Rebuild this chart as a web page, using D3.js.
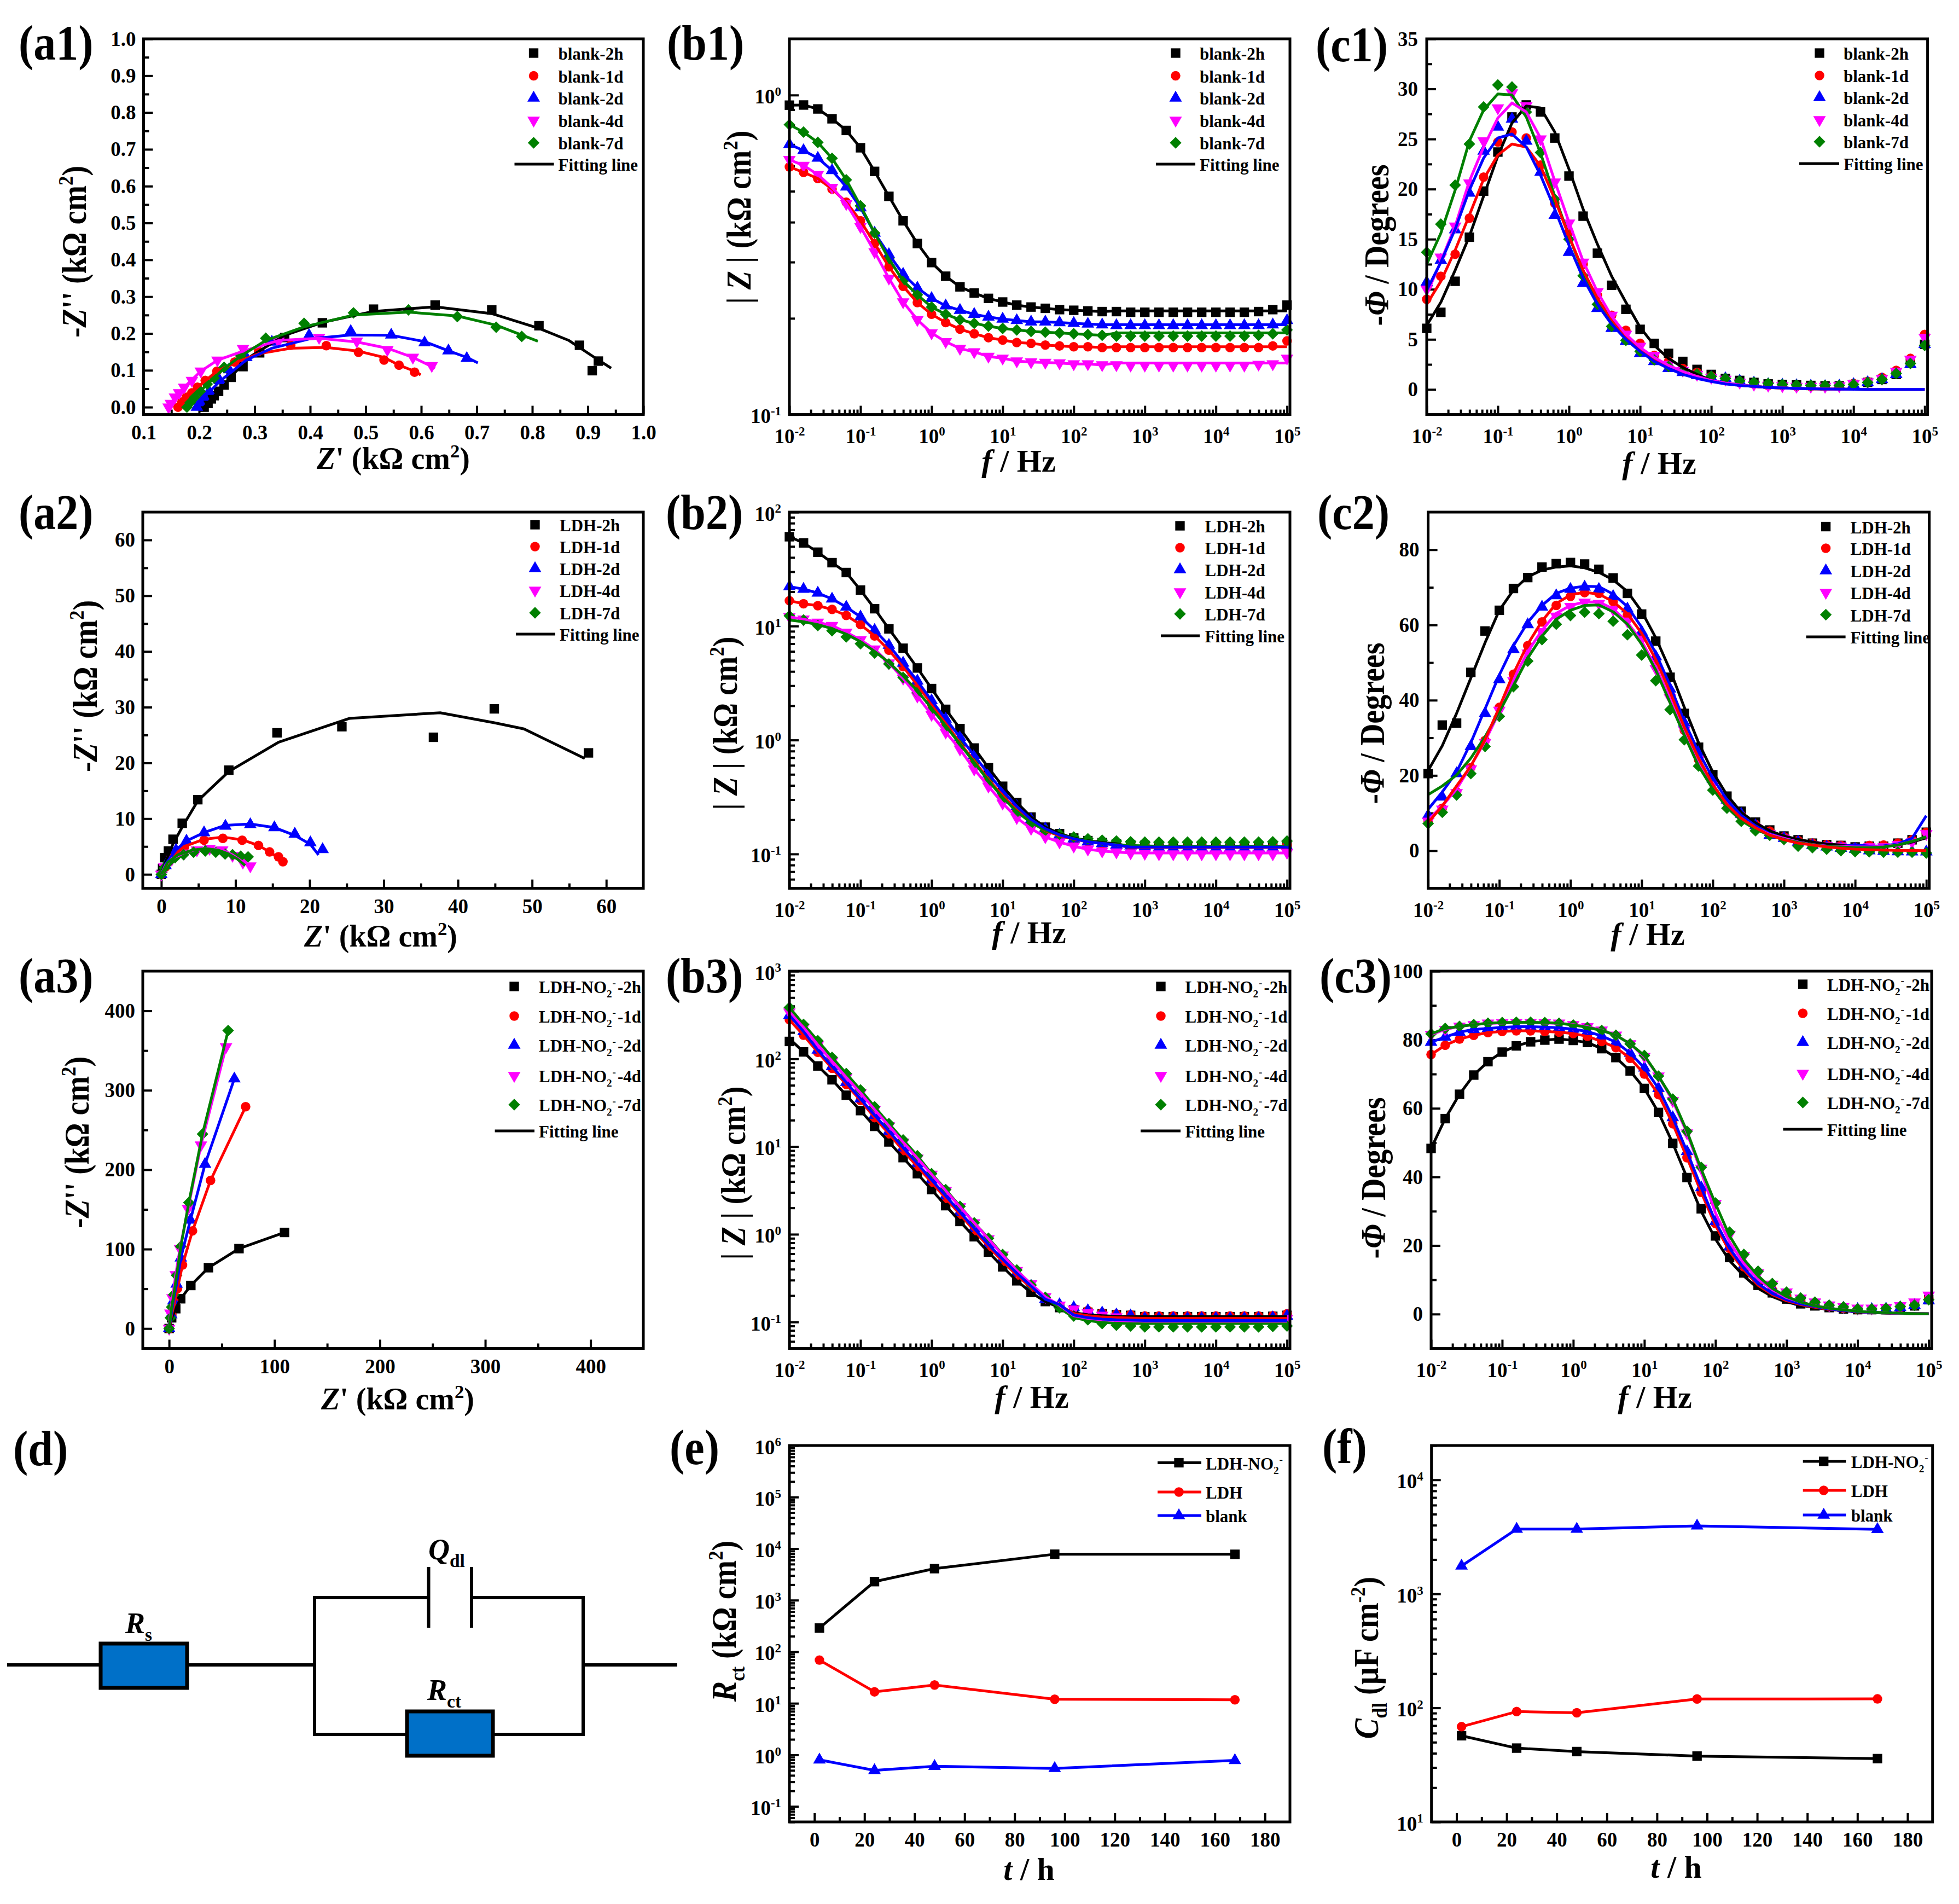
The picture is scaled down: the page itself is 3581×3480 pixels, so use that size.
<!DOCTYPE html>
<html>
<head>
<meta charset="utf-8">
<script src="https://cdn.jsdelivr.net/npm/d3@7"></script>
<style>
  body { margin: 0; background: #fff; }
  text { font-family: "Liberation Serif", serif; font-weight: bold; fill: #000; }
  .axis text { font-size: 37px; }
  .legend text { font-size: 31px; }
  .title { font-size: 56px; }
  .tag { font-size: 82px; }
</style>
</head>
<body>
<svg id="chart" width="3581" height="3480"></svg>
<script>
// frequency sweep shared by the Bode plots (Hz)
const freq = [0.01,0.0158,0.0251,0.0398,0.0631,0.1,0.158,0.251,0.398,0.631,1,1.58,2.51,3.98,6.31,10,15.8,25.1,39.8,63.1,100,158,251,398,631,1000,1580,2510,3980,6310,10000,15800,25100,39800,63100,100000];
const hours = [2,24,48,96,168];

// Nyquist, blank: [Z', -Z'']
const a1Pts2h = [[.209,0],[.216,.01],[.222,.0225],[.227,.031],[.235,.043],[.245,.06],[.2575,.081],[.279,.11],[.309,.1475],[.354,.189],[.422,.229],[.514,.266],[.625,.277],[.727,.264],[.812,.221],[.885,.168],[.919,.125],[.908,.099]];
const a1Pts1d = [[.162,0],[.169,.014],[.177,.027],[.187,.039],[.197,.054],[.211,.0725],[.232,.0975],[.264,.1225],[.307,.152],[.365,.168],[.429,.167],[.487,.149],[.533,.128],[.56,.114],[.588,.095]];
const a1Pts2d = [[.196,0],[.202,.0125],[.209,.027],[.218,.043],[.237,.0725],[.254,.102],[.285,.135],[.331,.177],[.398,.195],[.473,.206],[.546,.196],[.606,.175],[.649,.153],[.682,.1325]];
const a1Pts4d = [[.145,0],[.149,.01],[.1565,.027],[.164,.039],[.173,.054],[.187,.0725],[.203,.0975],[.233,.1275],[.279,.159],[.343,.179],[.416,.189],[.484,.179],[.539,.156],[.585,.135],[.619,.1125]];
const a1Pts7d = [[.178,0],[.184,.0125],[.192,.027],[.202,.043],[.2145,.0625],[.227,.079],[.245,.108],[.275,.139],[.32,.187],[.389,.2275],[.478,.256],[.577,.264],[.665,.246],[.735,.217],[.781,.192]];
const a1Fit2h = [[.209,0],[.227,.03],[.245,.058],[.256,.081],[.294,.139],[.354,.195],[.422,.23],[.514,.26],[.625,.2725],[.727,.254],[.812,.214],[.866,.181],[.912,.135],[.942,.106]];
const a1Fit1d = [[.162,0],[.177,.027],[.197,.054],[.232,.0975],[.264,.12],[.307,.145],[.365,.16],[.429,.162],[.487,.152],[.533,.135],[.56,.114],[.588,.0975],[.599,.0875]];
const a1Fit2d = [[.196,0],[.209,.027],[.237,.07],[.285,.128],[.331,.16],[.398,.185],[.473,.196],[.546,.195],[.606,.178],[.649,.153],[.682,.135],[.702,.12]];
const a1Fit4d = [[.145,0],[.1565,.027],[.173,.054],[.203,.0975],[.233,.1275],[.279,.152],[.343,.181],[.416,.187],[.484,.177],[.539,.16],[.585,.135],[.625,.106]];
const a1Fit7d = [[.178,0],[.192,.027],[.2145,.0625],[.245,.105],[.275,.139],[.32,.181],[.389,.218],[.478,.25],[.577,.258],[.665,.2475],[.735,.2225],[.81,.179]];

// Nyquist, LDH
const a2Pts2h = [[0,0],[.17,1.05],[.45,3],[.96,4.2],[1.58,6.3],[2.82,9.17],[4.92,13.4],[9.1,18.7],[15.6,25.4],[24.35,26.5],[36.7,24.6],[44.9,29.7],[57.6,21.8]];
const a2Pts1d = [[0,0],[.56,1.33],[1.53,3.26],[3.1,4.9],[5.76,6.13],[8.3,6.46],[10.9,6.13],[13.1,5.2],[14.6,4.03],[15.8,3.15],[16.4,2.27]];
const a2Pts2d = [[0,0],[.56,1.6],[1.98,4.36],[3.39,6],[5.76,7.5],[8.64,8.67],[12,8.95],[15.25,8.4],[18,7.24],[20.1,5.7],[21.75,4.48]];
const a2Pts4d = [[0,0],[.4,1.33],[1.41,2.7],[3.1,3.8],[4.8,4.36],[6.5,4.64],[8.2,4.36],[9.6,3.37],[11,2.15],[12,1.5]];
const a2Pts7d = [[0,0],[.4,1.16],[.96,2.15],[1.86,3],[3,3.54],[4.35,3.98],[5.93,4.2],[7.34,3.98],[8.6,3.65],[9.6,3.54],[10.7,3.26],[11.7,3.15]];
const a2Fit2h = [[0,0],[.56,2.15],[1.58,5.47],[2.82,8.5],[4.92,13.2],[9.1,18.45],[15.8,23.7],[25.4,28],[37.6,29],[44.9,27.2],[48.9,26.1],[57.1,20.8]];
const a2Fit1d = [[0,0],[.56,1.4],[1.53,3.3],[3.1,5],[5.76,6.3],[8.3,6.7],[10.9,6.2],[13.1,5.2],[14.6,4.03],[15.8,3],[16.4,2.1]];
const a2Fit2d = [[0,0],[.56,1.8],[1.98,4.4],[3.39,6],[5.76,7.5],[8.64,8.8],[12,9.05],[15.25,8.4],[18,7],[20.1,5.4],[21.2,3.5]];
const a2Fit4d = [[0,0],[.56,1.6],[1.41,2.8],[3.1,3.9],[4.8,4.5],[6.5,4.7],[8.2,4.4],[9.6,3.5],[11,2.2],[11.3,1.9]];
const a2Fit7d = [[0,0],[.85,2.15],[2.26,3.54],[4.24,4.36],[5.93,4.64],[7.63,4.36],[9,3.7],[10.2,2.8],[11.3,1.6]];

// Nyquist, LDH-NO2-
const a3Pts2h = [[0,0],[2.4,13.5],[6.3,25],[11,37.5],[20.6,54.2],[37.3,76.6],[66.3,100.6],[109.5,121]];
const a3Pts1d = [[0,0],[2.4,17.4],[5.2,32.9],[7.9,50.3],[12.7,80],[22.2,123],[39.3,186.5],[72.6,279.3]];
const a3Pts2d = [[0,0],[2,17.4],[4,34.8],[7.1,56],[11.1,89],[20.2,136.6],[34.1,207],[61.9,314.5]];
const a3Pts4d = [[0,0],[1.2,19.3],[3.2,38.7],[6.3,67.7],[10.3,100.6],[17.9,150.9],[30.2,231],[54,354.7]];
const a3Pts7d = [[0,0],[1.2,13.5],[2.4,27],[4.4,42.6],[7.1,67],[11.1,103.3],[18.7,158.6],[31.7,244.9],[56,375.2]];

// |Z|, blank
const b1Z2h = [.93,.931,.905,.843,.775,.684,.577,.482,.404,.343,.299,.271,.251,.24,.231,.225,.22,.217,.215,.213,.212,.211,.21,.21,.209,.209,.209,.209,.209,.209,.209,.209,.209,.21,.213,.22];
const b1Z1d = [.596,.573,.548,.508,.462,.404,.343,.29,.252,.224,.206,.194,.185,.179,.174,.171,.168,.167,.165,.164,.163,.163,.162,.162,.162,.162,.162,.162,.162,.162,.162,.162,.162,.162,.164,.17];
const b1Z2d = [.701,.671,.635,.581,.516,.444,.37,.317,.275,.249,.231,.219,.212,.206,.202,.199,.197,.195,.195,.194,.193,.192,.191,.19,.19,.19,.19,.19,.19,.19,.19,.19,.19,.19,.191,.197];
const b1Z4d = [.628,.602,.564,.514,.457,.387,.323,.267,.225,.198,.18,.169,.161,.157,.152,.15,.147,.146,.1455,.145,.144,.144,.143,.143,.1426,.1426,.1426,.1426,.1426,.1426,.1426,.1426,.1426,.1435,.144,.15];
const b1Z7d = [.808,.766,.711,.634,.543,.45,.37,.307,.262,.237,.217,.206,.198,.193,.189,.186,.184,.182,.181,.18,.179,.178,.177,.176,.176,.176,.176,.176,.176,.176,.176,.176,.176,.177,.179,.184];
const b1Fit2h = [...b1Z2h.slice(0,23),.211,.211,.211,.211,.211,.211,.211,.211,.211,.211,.211,.211,.211];
const b1Fit1d = [...b1Z1d.slice(0,23),.163,.163,.163,.163,.163,.163,.163,.163,.163,.163,.163,.163,.163];
const b1Fit2d = [...b1Z2d.slice(0,23),.191,.191,.191,.191,.191,.191,.191,.191,.191,.191,.191,.191,.191];
const b1Fit4d = [...b1Z4d.slice(0,23),.145,.145,.145,.145,.145,.145,.145,.145,.145,.145,.145,.145,.145];
const b1Fit7d = [...b1Z7d.slice(0,23),.18,.18,.18,.18,.18,.18,.18,.18,.18,.18,.18,.18,.18];

// |Z|, LDH
const b2Z2h = [60.8,53.7,44.5,36,29.5,20.7,14.2,9.45,6.39,4.29,2.83,1.86,1.26,.851,.571,.393,.283,.211,.172,.151,.138,.131,.126,.123,.1205,.119,.117,.116,.116,.116,.116,.116,.116,.116,.116,.119];
const b2Z1d = [16.7,15.7,15.1,14,12.4,10.3,8.2,6.15,4.4,3.03,2.07,1.41,.94,.655,.451,.326,.242,.192,.16,.145,.135,.128,.124,.12,.118,.116,.115,.115,.115,.115,.115,.115,.115,.115,.116,.12];
const b2Z2d = [22.2,21.1,19.5,17.3,14.7,12.05,9.2,6.8,4.74,3.3,2.22,1.53,1.06,.733,.504,.358,.262,.201,.167,.147,.136,.128,.124,.12,.118,.116,.114,.113,.112,.112,.112,.112,.112,.112,.113,.116];
const b2Z4d = [12.05,11.5,10.8,10.1,8.83,7.56,6.27,4.74,3.47,2.42,1.67,1.17,.83,.554,.393,.279,.208,.167,.141,.127,.117,.11,.106,.104,.102,.101,.1,.1,.1,.1,.1,.1,.1,.1,.1,.103];
const b2Z7d = [12.3,11.3,10.1,9.1,8.04,7,5.8,4.65,3.54,2.62,1.86,1.31,.91,.627,.432,.306,.232,.186,.161,.149,.141,.136,.132,.13,.128,.127,.127,.127,.127,.127,.127,.127,.127,.127,.128,.13];
const b2Fit2h = [...b2Z2h.slice(0,24),.116,.116,.116,.116,.116,.116,.116,.116,.116,.116,.116,.116];
const b2Fit1d = [...b2Z1d.slice(0,24),.114,.114,.114,.114,.114,.114,.114,.114,.114,.114,.114,.114];
const b2Fit2d = [...b2Z2d.slice(0,24),.115,.115,.115,.115,.115,.115,.115,.115,.115,.115,.115,.115];
const b2Fit4d = [...b2Z4d.slice(0,24),.102,.102,.102,.102,.102,.102,.102,.102,.102,.102,.102,.102];
const b2Fit7d = [11.3,10.9,10.3,9.5,8.5,7.3,6,4.8,3.65,2.7,1.9,1.33,.92,.635,.44,.312,.236,.188,.162,.148,.137,.13,.124,.121,.119,.118,.117,.117,.117,.117,.117,.117,.117,.117,.117,.117];

// |Z|, LDH-NO2-
const b3Z2h = [158,120,83,57.7,38.5,25.7,17,11.3,7.48,4.91,3.23,2.12,1.4,.937,.626,.425,.295,.217,.171,.146,.138,.129,.124,.121,.119,.115,.115,.115,.115,.115,.115,.115,.115,.115,.116,.119];
const b3Z1d = [279,186,119,78,51,33.6,21.4,14,9,5.9,3.92,2.57,1.69,1.1,.724,.491,.341,.247,.186,.155,.143,.135,.127,.123,.121,.117,.117,.117,.117,.117,.117,.117,.117,.117,.118,.124];
const b3Z2d = [315,205,126,82,54,35,22.8,15,9.7,6.4,4.18,2.75,1.79,1.17,.766,.52,.361,.257,.182,.158,.146,.135,.127,.121,.118,.11,.11,.11,.11,.11,.11,.11,.11,.11,.112,.117];
const b3Z4d = [341,228,144,94,61.5,40.8,26.4,17.2,11.2,7.36,4.83,3.15,2.05,1.35,.885,.577,.385,.272,.194,.155,.14,.127,.119,.114,.11,.103,.103,.103,.103,.103,.103,.103,.103,.103,.105,.11];
const b3Z7d = [385,247,161,104,68,44.2,28.4,18.3,11.9,7.85,4.91,3.23,2.08,1.35,.9,.587,.392,.264,.191,.145,.117,.106,.096,.092,.09,.088,.088,.088,.088,.088,.088,.088,.088,.088,.089,.09];
const b3Fit2h = [170,...b3Z2h.slice(1,20),.127,.121,.118,.116,.115,.115,.115,.115,.115,.115,.115,.115,.115,.115,.115,.115];
const b3Fit1d = [...b3Z1d.slice(0,20),.125,.118,.114,.112,.111,.11,.11,.11,.11,.11,.11,.11,.11,.11,.11,.11];
const b3Fit2d = [...b3Z2d.slice(0,20),.12,.112,.108,.106,.105,.104,.104,.104,.104,.104,.104,.104,.104,.104,.104,.104];
const b3Fit4d = [...b3Z4d.slice(0,20),.118,.11,.106,.104,.103,.102,.102,.102,.102,.102,.102,.102,.102,.102,.102,.102];
const b3Fit7d = [...b3Z7d.slice(0,20),.112,.104,.099,.097,.096,.096,.096,.096,.096,.096,.096,.096,.096,.096,.096,.096];

// phase, blank
const c1P2h = [6.1,7.7,10.8,15.2,19.8,23.7,27.2,28.4,27.7,25.1,21.3,17.3,13.6,10.4,8,6,4.6,3.6,2.8,2,1.5,1.1,.9,.7,.55,.5,.45,.4,.35,.35,.5,.7,1,1.5,2.6,4.5];
const c1P1d = [9,11.3,13.5,17.1,21.2,24.7,25.7,25.1,22.4,18.6,15.7,12.5,9.4,7.4,5.9,4.6,3.4,2.8,2.1,1.7,1.3,1,.7,.55,.4,.4,.3,.3,.3,.35,.6,.8,1.2,1.9,3.1,5.5];
const c1P2d = [10.7,12.9,15.95,19.6,23.8,26.2,27,24.8,21.7,17.4,13.7,10.6,8.1,6.1,4.8,3.6,2.8,2.1,1.7,1.4,1.2,1.1,.85,.65,.5,.45,.4,.35,.3,.35,.5,.7,1,1.5,2.5,4.5];
const c1P4d = [10,13.2,16.3,20.6,24.8,28.1,29.6,28.3,25,20.7,16.6,12.7,9.75,7.4,5.5,4.3,3.4,2.5,1.9,1.5,1.2,1,.7,.5,.4,.35,.3,.3,.3,.35,.55,.75,1.1,1.8,3,5.2];
const c1P7d = [13.7,16.5,20.4,24.5,28.2,30.4,30.2,27.7,23.65,19,15,11.35,8.5,6.3,4.9,3.8,2.95,2.3,1.85,1.55,1.3,1.1,.85,.7,.6,.5,.45,.4,.4,.4,.5,.7,1,1.6,2.6,4.4];
const c1Fit2h = [6.4,8.7,11.9,15.3,19.3,23.3,26.6,28.3,28.1,25.7,22,18,14.5,11.3,8.7,6.2,4.4,3.1,2.2,1.5,.9,.65,.45,.3,.2,.15,.1,.07,.05,.03,.02,.01,0,0,0,0];
const c1Fit1d = [8.5,10.8,13.9,17.4,21,23.4,24.5,24.2,22.3,19,15.3,11.9,9.1,7,5.3,4.1,3,2.3,1.7,1.2,.85,.6,.42,.3,.2,.15,.1,.07,.05,.03,.02,.01,0,0,0,0];
const c1Fit2d = [9.9,12.7,16,19.9,23.1,25.1,25.5,24.2,21.4,18,14.4,11.1,8.5,6.5,5,3.8,2.8,2.1,1.5,1.1,.8,.55,.4,.3,.2,.15,.1,.07,.05,.03,.02,.01,0,0,0,0];
const c1Fit4d = [9.5,12.8,16.3,20.8,24.2,27.1,28.6,27.7,25.1,20.8,16.7,12.8,9.75,7.3,5.5,4.2,3.2,2.4,1.8,1.3,.9,.65,.45,.3,.2,.15,.1,.07,.05,.03,.02,.01,0,0,0,0];
const c1Fit7d = [12.5,15.6,19.9,24.8,27.9,29.5,29.4,27.2,23.6,19.3,15.3,11.7,8.8,6.7,5.2,3.9,2.95,2.2,1.6,1.15,.85,.6,.42,.3,.2,.15,.1,.07,.05,.03,.02,.01,0,0,0,0];

// phase, LDH
const c2P2h = [20.5,33.4,33.9,47.4,58.4,63.9,69.7,72.6,75.4,76.3,76.6,76.2,74.8,72.5,68.4,62.9,55.7,46.1,36.5,27.5,20.2,14.5,10.5,7.6,5.5,3.9,2.9,2,1.6,1.4,1,1.2,1.2,2,2.9,4.9];
const c2P1d = [8,11.3,15.6,22.1,29.3,38.1,46.9,54.5,60.8,65.2,67.6,68.6,68.4,66.2,62.7,57.4,50.4,41.4,32,24.2,18.4,13,9.4,7,5.2,3.7,2.7,2,1.6,1.4,.8,1.4,1.5,2,2.9,4.9];
const c2P2d = [9.4,14.3,20.5,27.7,36.5,45.5,53.5,60.1,64.8,67.8,69.5,70.1,69.5,67.6,64.3,58.2,51.6,43,34,26.2,19,13.5,9.7,6.7,4.1,3.3,2.3,1.4,1,.65,.4,0,-.15,-.25,-.3,-.3];
const c2P4d = [7.8,11,15.4,21.7,28.7,37.3,45.1,52.5,58.2,62.3,64.9,66,65.7,64.1,61,56.1,48.4,40.6,32,24.2,17.6,12.3,8.6,6.1,4.5,3.3,2,1.6,1.3,1.2,.8,1,1,1.6,2.3,4.5];
const c2P7d = [7.2,10.2,14.8,20.5,27.7,35.7,43.6,50.4,56.1,60.2,62.5,63.4,63,61,57.4,52,45.2,37.5,29.5,22.5,16.1,11.3,7.8,5.3,4.1,3,1.2,.8,.4,0,-.25,-.3,-.4,-.4,-.4,-.6];
const c2Fit2h = [21.3,27.9,36.5,45.9,55.3,63.9,69.3,72.8,74.6,75.4,75.7,75.2,74,72,68.9,63.6,56.6,48,38.1,28.7,20.9,14.8,10.2,7.4,5.3,3.9,3,2.3,1.8,1.5,1.2,1.1,1.1,1.6,2.3,3.4];
const c2Fit1d = [7.5,11.9,17.2,22.5,29.5,38.1,47.1,54.9,61,65.7,68,68.7,68.2,66.2,63,57.8,50.8,42.2,32.8,24.6,17.6,12.3,8.6,6.1,4.1,2.9,2,1.5,1,.65,.4,.25,.15,.08,.04,.02];
const c2Fit2d = [11,15.6,20.9,28.7,37.7,46.7,54.5,60.7,65.2,68.4,69.8,70.3,70.2,68.2,64.9,59.4,52.5,43.9,34.4,26.2,19.3,13.5,9.4,6.6,4.5,3.3,2.3,1.6,1.2,1.1,1.6,1.2,1.3,1.8,3.3,9.3];
const c2Fit4d = [8.2,11.9,16.4,22.5,29.1,36.9,45.5,52.9,58.6,63.1,65.2,66.1,66.1,64.3,60.7,55.7,48.8,40.6,32,23.8,17.2,12.3,8.6,6.1,4.3,3.3,2.3,1.6,1.2,1.1,1,1,1.1,1.6,2.5,3.7];
const c2Fit7d = [14.9,17.2,20.1,24.6,30.3,36.9,43.9,51.2,57,61.5,63.9,65.2,65.3,63.5,60.2,54.9,48,39.3,30.7,22.5,16.4,11.5,8,5.7,4.1,3,2.2,1.6,1.1,1,.8,.8,1,1.5,2.5,3.7];

// phase, LDH-NO2-
const c3P2h = [48.3,57,64.1,69.7,73.6,76.4,78.2,79.4,79.9,80.2,79.8,79.2,77.4,74.8,70.9,65.8,58.8,49.8,39.8,30.7,22.8,16.5,12,8.4,6.2,4.4,3,2.4,1.9,1.5,1.3,1.3,1.3,1.7,2.4,4.2];
const c3P1d = [75.7,78.4,80.2,81.3,82.1,82.4,82.6,82.6,82.4,82.2,81.8,81,79.5,77.7,74.6,70,64,55.5,45.6,35.5,26.4,19.2,13.8,9.8,7.1,5.1,3.7,2.8,2.2,1.7,1.35,1.35,1.5,1.9,2.6,4.6];
const c3P2d = [79.3,80.8,82.2,83,83.3,83.6,83.8,83.8,83.7,83.5,83.1,82.4,81.1,79.3,76.1,71.8,65.8,57.3,47.4,36.9,27,19.6,14.3,10.2,7.3,4.8,3.5,2.8,2.2,1.7,1.4,1.4,1.5,1.9,2.6,3.9];
const c3P4d = [81.5,83,83.9,84.4,84.8,84.9,85,85,84.9,84.8,84.4,83.8,82.8,81.3,78.8,75.1,69.4,62.2,52.8,42.5,32.2,23.2,17,12,8.7,6.4,4.6,3.5,2.6,2.2,1.7,1.7,1.9,2.4,3.5,5.5];
const c3P7d = [81.7,83.3,83.9,84.4,84.8,85,85.1,85.1,85,84.8,84.3,83.6,82.7,81.3,78.8,75.4,69.4,62.7,53.3,42.8,32.4,23.9,17.4,12.5,8.9,6.4,4.7,3.5,2.6,2.1,1.5,1.5,1.7,2.2,2.6,4.2];
const c3Fit2h = [...c3P2h.slice(0,19),30,21.9,15.6,11.1,7.5,5.1,3.5,2.6,1.9,1.35,1,.6,.45,.3,.2,.15,.1];
const c3Fit1d = [...c3P1d.slice(0,20),25.9,18.3,12.9,8.4,5.7,3.9,2.8,2,1.4,1.1,.7,.5,.35,.25,.15,.1];
const c3Fit2d = [...c3P2d.slice(0,20),27,19.2,13.4,8.9,6,4.2,3,2.2,1.5,1.1,.7,.5,.35,.25,.15,.1];
const c3Fit4d = [...c3P4d.slice(0,19),41.5,29.5,21,14.7,10.2,7.1,4.8,3.5,2.4,1.7,1.25,.8,.55,.4,.25,.15,.1];
const c3Fit7d = [...c3P7d.slice(0,19),42.2,32.2,22.8,16,11.1,7.5,5.1,3.5,2.4,1.7,1.25,.8,.55,.4,.25,.15,.1];

// Rct and Cdl over time
const rctNitrite = [288,2290,4090,7800,7760];
const rctLdh = [69,16.7,22.6,12,11.7];
const rctBlank = [.8,.5,.6,.546,.78];
const cdlNitrite = [57,44.4,41.4,37.8,35.9];
const cdlLdh = [68.5,92.8,90.6,119.7,120];
const cdlBlank = [1757,3700,3700,3947,3680];

const ages = ['2h','1d','2d','4d','7d'];
const colors = ['#000000','#ff0000','#0000ff','#ff00ff','#008000'];
const freqDomain = [0.01, 1.1e5];

const svg = d3.select('#chart');
svg.append('rect').attr('width',3581).attr('height',3480).attr('fill','#fff');

// draws plain text, italics, subscripts and superscripts into one <text>
function rich(sel, parts) {
  let shift = 0;
  const size = parseFloat(sel.attr('data-size'));
  parts.forEach(p => {
    const t = typeof p === 'string' ? {t: p} : p;
    const target = t.sub ? size * 0.26 : t.sup ? -size * 0.38 : 0;
    const span = sel.append('tspan').text(t.t).attr('dy', target - shift);
    if (t.dx) span.attr('dx', t.dx);
    if (t.i) span.style('font-style', 'italic');
    if (t.sub || t.sup) span.style('font-size', (size * 0.62) + 'px');
    shift = target;
  });
}

function label(x, y, parts, size, cls, rotate) {
  const t = svg.append('text').attr('class', cls || null).attr('data-size', size)
    .style('font-size', size + 'px').attr('text-anchor', 'middle');
  // the rotated titles sit a little taller across the baseline in the source figure
  t.attr('transform', rotate ? `translate(${x},${y}) rotate(-90) scale(1,1.12)` : `translate(${x},${y})`);
  rich(t, parts);
  return t;
}

function tag(x, y, s) {
  svg.append('text').attr('class','tag').attr('transform',`translate(${x},${y}) scale(1,1.1)`).text(s);
}

function logMinor(domain) {
  const out = [];
  for (let e = Math.floor(Math.log10(domain[0])); e < Math.ceil(Math.log10(domain[1])); e++) {
    for (let m = 2; m < 10; m++) {
      const v = m * Math.pow(10, e);
      if (v >= domain[0] && v <= domain[1]) out.push(v);
    }
  }
  return out;
}

function symbolPath(i) {
  const gen = [
    d3.symbol(d3.symbolSquare, 300),
    d3.symbol(d3.symbolCircle, 240),
    d3.symbol(d3.symbolTriangle, 230),
    d3.symbol(d3.symbolTriangle, 230),
    d3.symbol(d3.symbolDiamond2, 290)
  ][i];
  return gen();
}

function marker(g, i, x, y) {
  g.append('path').attr('d', symbolPath(i)).attr('fill', colors[i])
    .attr('transform', `translate(${x},${y})` + (i === 3 ? ' rotate(180)' : ''));
}

function panel(o) {
  const [x0, y0, x1, y1] = o.frame;
  const w = x1 - x0, h = y1 - y0;
  const g = svg.append('g').attr('transform', `translate(${x0},${y0})`);
  const x = (o.xLog ? d3.scaleLog() : d3.scaleLinear()).domain(o.xDomain).range([0, w]);
  const y = (o.yLog ? d3.scaleLog() : d3.scaleLinear()).domain(o.yDomain).range([h, 0]);

  const axisG = g.append('g').attr('class', 'axis');
  const bottom = axisG.append('g').attr('transform', `translate(0,${h})`);
  const left = axisG.append('g');
  const bn = bottom.append('g').call(d3.axisBottom(x).tickValues(o.xMinor).tickSize(-9).tickFormat(''));
  const ln = left.append('g').call(d3.axisLeft(y).tickValues(o.yMinor).tickSize(-10).tickFormat(''));
  bn.selectAll('text').remove();
  ln.selectAll('text').remove();
  const bm = bottom.append('g').call(d3.axisBottom(x).tickValues(o.xMajor).tickSize(-16).tickFormat(o.xFormat || d3.format('d')));
  const lm = left.append('g').call(d3.axisLeft(y).tickValues(o.yMajor).tickSize(-17).tickFormat(o.yFormat || d3.format('d')));
  axisG.selectAll('.domain').remove();
  axisG.selectAll('.tick line').attr('stroke', '#000').attr('stroke-width', 4);

  const powerLabel = function (d) {
    const t = d3.select(this).text('').attr('data-size', 37);
    rich(t, ['10', {t: String(Math.round(Math.log10(d))), sup: true}]);
  };
  bm.selectAll('text').attr('y', o.xLog ? 52 : 45).attr('dy', null);
  if (o.xLog) bm.selectAll('text').each(powerLabel);
  lm.selectAll('text').attr('x', o.yPad ? -o.yPad : -14).attr('dy', null).attr('y', o.yLog ? 15 : 12);
  if (o.yLog) lm.selectAll('text').each(powerLabel);

  const line = d3.line().x(d => x(d[0])).y(d => y(d[1]));

  (o.points || []).forEach((pts, i) => {
    const mg = g.append('g');
    pts.forEach(p => marker(mg, i, x(p[0]), y(p[1])));
  });
  (o.fitOrder || [0,1,2,3,4]).forEach(i => {
    const pts = o.fits[i];
    if (!pts) return;
    g.append('path').datum(pts).attr('fill','none').attr('stroke',colors[i])
      .attr('stroke-width',5).attr('stroke-linejoin','round').attr('d',line);
  });

  // frame on top
  g.append('rect').attr('width',w).attr('height',h).attr('fill','none').attr('stroke','#000').attr('stroke-width',5);

  // legend
  const L = o.legend;
  const lg = g.append('g').attr('class','legend');
  L.names.forEach((name, i) => {
    const ry = L.rows[i];
    if (L.lined) {
      lg.append('line').attr('x1',L.lineX[0]).attr('x2',L.lineX[1]).attr('y1',ry).attr('y2',ry)
        .attr('stroke',colors[L.colorIdx[i]]).attr('stroke-width',5);
    }
    marker(lg, L.colorIdx[i], L.markX, ry);
    const t = lg.append('text').attr('x',L.textX).attr('y',ry + 12).attr('data-size',31);
    rich(t, name);
  });
  if (L.rows.length > L.names.length) {
    const ry = L.rows[L.names.length];
    lg.append('line').attr('x1',L.lineX[0]).attr('x2',L.lineX[1]).attr('y1',ry).attr('y2',ry)
      .attr('stroke','#000').attr('stroke-width',5);
    lg.append('text').attr('x',L.textX).attr('y',ry + 12).text('Fitting line');
  }
}

const zip = vals => vals.map((v, i) => [freq[i], v]);
const timed = vals => vals.map((v, i) => [hours[i], v]);

const names = base => ages.map(a => [base + '-' + a]);
const nitriteNames = ages.map(a => ['LDH-NO', {t:'2', sub:true}, {t:'-', sup:true, dx:1}, {t:'-' + a, dx:3}]);

const zX = [{t:'Z', i:true}, "' (kΩ cm", {t:'2', sup:true}, ')'];
const zY = ['-', {t:'Z', i:true}, "'' (kΩ cm", {t:'2', sup:true}, ')'];
const modY = ['| ', {t:'Z', i:true}, ' | (kΩ cm', {t:'2', sup:true}, ')'];
const phY = ['-', {t:'Φ', i:true}, ' / Degrees'];
const fX = [{t:'f', i:true}, ' / Hz'];
const tX = [{t:'t', i:true}, ' / h'];

const idx = [0,1,2,3,4];
const range5 = (a, b, s) => d3.range(a, b + s / 2, s);
const oddOnly = (major, all) => all.filter(v => !major.some(m => Math.abs(m - v) < 1e-9));
const freqMajor = [0.01,0.1,1,10,100,1000,10000,100000];
const freqMinor = logMinor(freqDomain);
const powers = (a, b) => d3.range(a, b + 1).map(e => Math.pow(10, e));
const f3 = d3.format('.1f');

// row 1 --------------------------------------------------------------
const a1Major = range5(0.1, 1, 0.1);
panel({
  frame:[262.5,71,1176,757.6], xDomain:[0.1,1], yDomain:[-0.02,1],
  xMajor:a1Major, xMinor:oddOnly(a1Major, range5(0.1,1,0.05)),
  yMajor:range5(0,1,0.1), yMinor:oddOnly(range5(0,1,0.1), range5(0,1,0.05)),
  xFormat:f3, yFormat:f3,
  points:[a1Pts2h,a1Pts1d,a1Pts2d,a1Pts4d,a1Pts7d],
  fits:[a1Fit2h,a1Fit1d,a1Fit2d,a1Fit4d,a1Fit7d],
  legend:{names:names('blank'),colorIdx:idx,markX:713,textX:758,lineX:[678,750],rows:[26,67.6,108,149,190,229]}
});
panel({
  frame:[1443,71,2358,757.6], xLog:true, yLog:true, xDomain:freqDomain, yDomain:[0.1,1.5],
  xMajor:freqMajor, xMinor:freqMinor, yMajor:[0.1,1], yMinor:logMinor([0.1,1.5]), yPad:15,
  points:[b1Z2h,b1Z1d,b1Z2d,b1Z4d,b1Z7d].map(zip),
  fits:[b1Fit2h,b1Fit1d,b1Fit2d,b1Fit4d,b1Fit7d].map(zip),
  legend:{names:names('blank'),colorIdx:idx,markX:706,textX:750,lineX:[670,742],rows:[26,67.6,108,149,190,229]}
});
panel({
  frame:[2608,71,3523.6,757.6], xLog:true, xDomain:freqDomain, yDomain:[-2.5,35],
  xMajor:freqMajor, xMinor:freqMinor, yMajor:range5(0,35,5), yMinor:[2.5,7.5,12.5,17.5,22.5,27.5,32.5], yPad:16,
  points:[c1P2h,c1P1d,c1P2d,c1P4d,c1P7d].map(zip),
  fits:[c1Fit2h,c1Fit1d,c1Fit2d,c1Fit4d,c1Fit7d].map(zip), fitOrder:[0,4,1,3,2],
  legend:{names:names('blank'),colorIdx:idx,markX:718,textX:762,lineX:[681,754],rows:[26,67,107,148,188,228]}
});

// row 2 --------------------------------------------------------------
panel({
  frame:[261,936,1176,1623.6], xDomain:[-2.5,65], yDomain:[-2.5,65],
  xMajor:range5(0,60,10), xMinor:[5,15,25,35,45,55], yMajor:range5(0,60,10), yMinor:[5,15,25,35,45,55],
  points:[a2Pts2h,a2Pts1d,a2Pts2d,a2Pts4d,a2Pts7d],
  fits:[a2Fit2h,a2Fit1d,a2Fit2d,a2Fit4d,a2Fit7d],
  legend:{names:names('LDH'),colorIdx:idx,markX:717,textX:762,lineX:[682,754],rows:[23,63,103,143,184,223]}
});
panel({
  frame:[1443,936,2358,1623.6], xLog:true, yLog:true, xDomain:freqDomain, yDomain:[0.05,100],
  xMajor:freqMajor, xMinor:freqMinor, yMajor:powers(-1,2), yMinor:logMinor([0.05,100]), yPad:15,
  points:[b2Z2h,b2Z1d,b2Z2d,b2Z4d,b2Z7d].map(zip),
  fits:[b2Fit2h,b2Fit1d,b2Fit2d,b2Fit4d,b2Fit7d].map(zip), fitOrder:[0,1,3,4,2],
  legend:{names:names('LDH'),colorIdx:idx,markX:714,textX:759.5,lineX:[679,750],rows:[25,65,105,146,186,226]}
});
panel({
  frame:[2610.6,936,3526.6,1623.6], xLog:true, xDomain:freqDomain, yDomain:[-10,90],
  xMajor:freqMajor, xMinor:freqMinor, yMajor:range5(0,80,20), yMinor:[10,30,50,70], yPad:16,
  points:[c2P2h,c2P1d,c2P2d,c2P4d,c2P7d].map(zip),
  fits:[c2Fit2h,c2Fit1d,c2Fit2d,c2Fit4d,c2Fit7d].map(zip), fitOrder:[0,2,3,4,1],
  legend:{names:names('LDH'),colorIdx:idx,markX:727,textX:772,lineX:[691,763],rows:[26.5,66,107,147,187.5,228]}
});

// row 3 --------------------------------------------------------------
panel({
  frame:[261,1775,1176,2464.5], xDomain:[-25,450], yDomain:[-25,450],
  xMajor:range5(0,400,100), xMinor:[50,150,250,350], yMajor:range5(0,400,100), yMinor:[50,150,250,350],
  points:[a3Pts2h,a3Pts1d,a3Pts2d,a3Pts4d,a3Pts7d],
  fits:[a3Pts2h,a3Pts1d,a3Pts2d,a3Pts4d,a3Pts7d],
  legend:{names:nitriteNames,colorIdx:idx,markX:679,textX:724,lineX:[643.6,716],rows:[28,82,135,191,244,292]}
});
panel({
  frame:[1443,1775,2358,2464.5], xLog:true, yLog:true, xDomain:freqDomain, yDomain:[0.05,1000],
  xMajor:freqMajor, xMinor:freqMinor, yMajor:powers(-1,3), yMinor:logMinor([0.05,1000]), yPad:15,
  points:[b3Z2h,b3Z1d,b3Z2d,b3Z4d,b3Z7d].map(zip),
  fits:[b3Fit2h,b3Fit1d,b3Fit2d,b3Fit4d,b3Fit7d].map(zip), fitOrder:[0,1,4,3,2],
  legend:{names:nitriteNames,colorIdx:idx,markX:679,textX:723.5,lineX:[642,715],rows:[28,82,135,191,244,292]}
});
panel({
  frame:[2616,1775,3531,2464.5], xLog:true, xDomain:freqDomain, yDomain:[-10,100],
  xMajor:freqMajor, xMinor:freqMinor, yMajor:range5(0,100,20), yMinor:[10,30,50,70,90], yPad:15,
  points:[c3P2h,c3P1d,c3P2d,c3P4d,c3P7d].map(zip),
  fits:[c3Fit2h,c3Fit1d,c3Fit2d,c3Fit4d,c3Fit7d].map(zip),
  legend:{names:nitriteNames,colorIdx:idx,markX:679.5,textX:724,lineX:[643.5,715.5],rows:[24,77,130,187,240,289]}
});

// row 4 --------------------------------------------------------------
const trendNames = [['LDH-NO',{t:'2',sub:true},{t:'-',sup:true,dx:1}],['LDH'],['blank']];
panel({
  frame:[1443,2642,2358,3330], yLog:true, xDomain:[-10,190], yDomain:[0.05,1e6],
  xMajor:range5(0,180,20), xMinor:range5(10,170,20), yMajor:powers(-1,6), yMinor:logMinor([0.05,1e6]), yPad:15,
  points:[rctNitrite,rctLdh,rctBlank].map(timed), fits:[rctNitrite,rctLdh,rctBlank].map(timed),
  fitOrder:[0,1,2],
  legend:{names:trendNames,lined:true,colorIdx:[0,1,2],markX:712,textX:761,lineX:[673,753],rows:[31.5,85,128]}
});
panel({
  frame:[2616.7,2642,3532.7,3330], yLog:true, xDomain:[-10,190], yDomain:[10,2e4],
  xMajor:range5(0,180,20), xMinor:range5(10,170,20), yMajor:powers(1,4), yMinor:logMinor([10,2e4]), yPad:15,
  points:[cdlNitrite,cdlLdh,cdlBlank].map(timed), fits:[cdlNitrite,cdlLdh,cdlBlank].map(timed),
  fitOrder:[0,1,2],
  legend:{names:trendNames,lined:true,colorIdx:[0,1,2],markX:717,textX:767,lineX:[679,757.6],rows:[29,82,127]}
});

// axis titles
label(719,857,zX,56,'title');        label(157,460,zY,56,'title',true);
label(1862,862,fX,58,'title');       label(1372,397,modY,56,'title',true);
label(3033,866,fX,58,'title');       label(2538,448,phY,56,'title',true);
label(696,1730,zX,56,'title');       label(177,1254,zY,56,'title',true);
label(1881,1724,fX,58,'title');      label(1347,1322,modY,56,'title',true);
label(3012,1727,fX,58,'title');      label(2530,1322,phY,56,'title',true);
label(727,2576,zX,56,'title');       label(162,2088,zY,56,'title',true);
label(1886,2573,fX,58,'title');      label(1362,2144,modY,56,'title',true);
label(3025,2573,fX,58,'title');      label(2532,2153,phY,56,'title',true);
label(1881,3436,tX,58,'title');      label(1345,2963,[{t:'R',i:true},{t:'ct',sub:true},'  (kΩ cm',{t:'2',sup:true},')'],56,'title',true);
label(3064,3432,tX,58,'title');      label(2519,3030,[{t:'C',i:true},{t:'dl',sub:true},'  (µF cm',{t:'-2',sup:true},')'],56,'title',true);

// panel tags
[[34,109,'(a1)'],[1219,109,'(b1)'],[2405,112,'(c1)'],
 [34,967,'(a2)'],[1217,967,'(b2)'],[2408,967,'(c2)'],
 [34,1814,'(a3)'],[1217,1814,'(b3)'],[2412,1814,'(c3)'],
 [24,2678,'(d)'],[1224,2676,'(e)'],[2417,2674,'(f)']].forEach(t => tag(t[0],t[1],t[2]));

// equivalent circuit (d)
const wire = [[16,3043,182,3043],[344,3043,575,3043],[575,2920,575,3170],[1066,2920,1066,3170],
  [1066,3043,1235,3043],[575,2920,783,2920],[862,2920,1066,2920],[575,3170,742,3170],[902,3170,1066,3170],
  [783.5,2867,783.5,2972],[862,2867,862,2972]];
svg.append('g').selectAll('line').data(wire).join('line')
  .attr('x1',d=>d[0]).attr('y1',d=>d[1]).attr('x2',d=>d[2]).attr('y2',d=>d[3])
  .attr('stroke','#000').attr('stroke-width',6).attr('stroke-linecap','square');
svg.append('g').selectAll('rect').data([[184,3004,158,81],[744,3128,157,81]]).join('rect')
  .attr('x',d=>d[0]).attr('y',d=>d[1]).attr('width',d=>d[2]).attr('height',d=>d[3])
  .attr('fill','#0070c8').attr('stroke','#000').attr('stroke-width',7);
[[229,2985,'R','s'],[783,2850,'Q','dl'],[781,3107,'R','ct']].forEach(c => {
  const t = svg.append('text').attr('x',c[0]).attr('y',c[1]).attr('data-size',54).style('font-size','54px');
  rich(t,[{t:c[2],i:true},{t:c[3],sub:true}]);
});
</script>
</body>
</html>
